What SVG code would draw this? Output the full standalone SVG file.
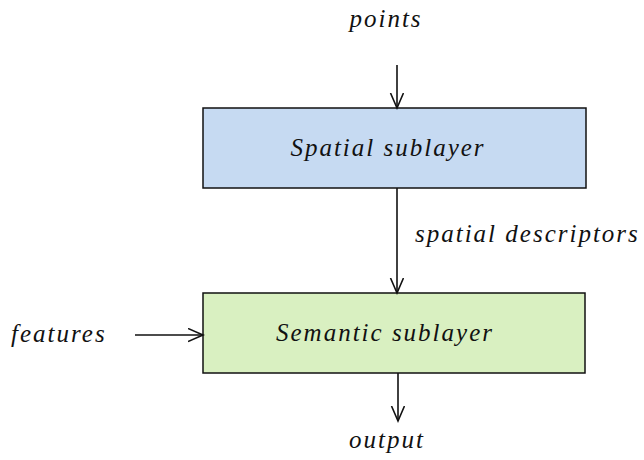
<svg xmlns="http://www.w3.org/2000/svg" width="644" height="460" viewBox="0 0 644 460">
<style>
text{font-family:"Liberation Serif","Times New Roman",serif;font-style:italic;font-size:25px;fill:#111;letter-spacing:2px}
.box{stroke:#111;stroke-width:1.5}
.c{stroke:#111;stroke-width:1.6;fill:none;marker-end:url(#ah)}
</style>
<defs>
<marker id="ah" markerUnits="userSpaceOnUse" markerWidth="20" markerHeight="20" refX="15" refY="7" orient="auto">
<path d="M0,0.5 L15,7 L0,13.5" fill="none" stroke="#111" stroke-width="1.6"/>
</marker>
</defs>
<g id="spatial">
<rect class="box" x="203" y="108" width="383" height="80" fill="#c6daf2"/>
<text x="388" y="156" text-anchor="middle">Spatial sublayer</text>
</g>
<g id="semantic">
<rect class="box" x="203" y="293" width="382" height="80" fill="#d9f0c1"/>
<text x="385" y="341" text-anchor="middle">Semantic sublayer</text>
</g>
<g id="connectors">
<line class="c" x1="397" y1="65" x2="397" y2="108"/>
<line class="c" x1="397" y1="188" x2="397" y2="293"/>
<line class="c" x1="135" y1="335" x2="203" y2="335"/>
<line class="c" x1="398" y1="373" x2="398" y2="421"/>
</g>
<g id="labels">
<text x="386" y="27" text-anchor="middle">points</text>
<text x="415" y="242">spatial descriptors</text>
<text x="11" y="342">features</text>
<text x="387" y="448" text-anchor="middle">output</text>
</g>
</svg>
